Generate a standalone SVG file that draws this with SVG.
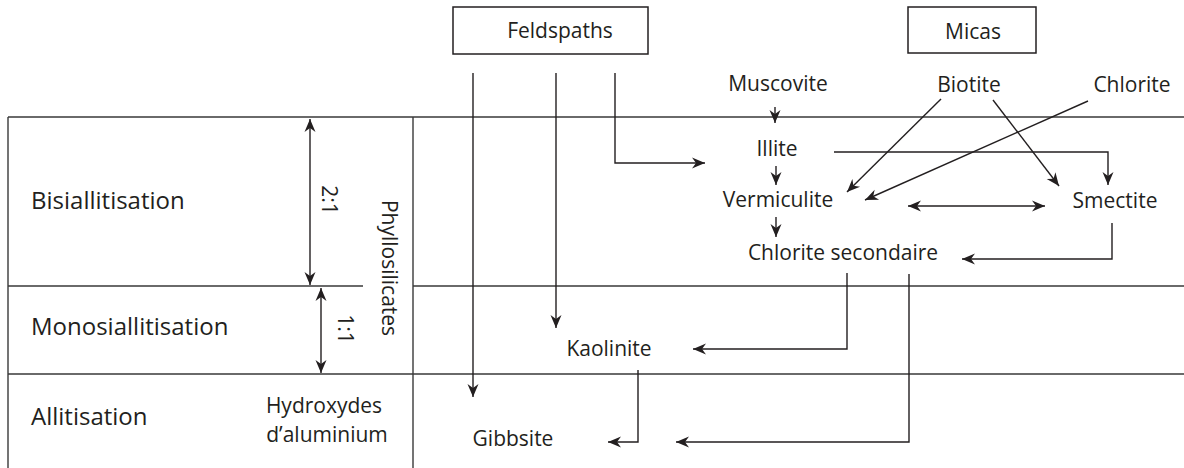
<svg xmlns="http://www.w3.org/2000/svg" width="1184" height="468" viewBox="0 0 1184 468">
<style>
  text{font-family:"Open Sans","Liberation Sans",sans-serif;fill:#231f20;font-size:21px}
  .big{font-size:24px}
  .m{text-anchor:middle}
  .grid{stroke:#3a3a3a;stroke-width:1.4;fill:none}
  .box{stroke:#231f20;stroke-width:1.5;fill:#fff}
  .c{stroke:#231f20;stroke-width:1.4;fill:none;marker-end:url(#ah)}
  .d{marker-start:url(#ah2)}
</style>
<defs>
  <marker id="ah" markerUnits="userSpaceOnUse" viewBox="-14 -7 16 14" markerWidth="16" markerHeight="14" refX="0" refY="0" orient="auto">
    <path d="M0,0 L-13,-5.5 L-9,0 L-13,5.5 Z" fill="#231f20"/>
  </marker>
  <marker id="ah2" markerUnits="userSpaceOnUse" viewBox="-14 -7 16 14" markerWidth="16" markerHeight="14" refX="0" refY="0" orient="auto-start-reverse">
    <path d="M0,0 L-13,-5.5 L-9,0 L-13,5.5 Z" fill="#231f20"/>
  </marker>
</defs>
<rect width="1184" height="468" fill="#fff"/>
<g id="table">
  <path class="grid" d="M8,117 H1184 M8,117 V468 M8,286 H363 M413,286 H1184 M8,374 H1184 M413,117 V468"/>
</g>
<g id="rows">
  <text class="big" x="31" y="209">Bisiallitisation</text>
  <text class="big" x="31" y="335">Monosiallitisation</text>
  <text class="big" x="31" y="425">Allitisation</text>
  <text x="324" y="413" class="m">Hydroxydes</text>
  <text x="327" y="442" class="m">d’aluminium</text>
  <text class="m" transform="translate(382,268) rotate(90)">Phyllosilicates</text>
  <text class="m" transform="translate(322,200) rotate(90)">2:1</text>
  <text class="m" transform="translate(338,329) rotate(90)">1:1</text>
</g>
<g id="feldspaths"><rect class="box" x="453" y="7" width="195" height="47"/><text class="m" x="560" y="38">Feldspaths</text></g>
<g id="micas"><rect class="box" x="908" y="7" width="128" height="46"/><text class="m" x="973" y="39">Micas</text></g>
<g id="muscovite"><text class="m" x="778" y="91">Muscovite</text></g>
<g id="biotite"><text class="m" x="969" y="92">Biotite</text></g>
<g id="chlorite"><text class="m" x="1132" y="92">Chlorite</text></g>
<g id="illite"><text class="m" x="777" y="156">Illite</text></g>
<g id="vermiculite"><text class="m" x="778" y="207">Vermiculite</text></g>
<g id="smectite"><text class="m" x="1115" y="208">Smectite</text></g>
<g id="chlorite-secondaire"><text class="m" x="843" y="260">Chlorite secondaire</text></g>
<g id="kaolinite"><text class="m" x="609" y="356">Kaolinite</text></g>
<g id="gibbsite"><text class="m" x="513" y="446">Gibbsite</text></g>
<g id="connectors">
  <path class="c d" d="M310,119 V285"/>
  <path class="c d" d="M321,288 V373"/>
  <path class="c" d="M473,73 V397"/>
  <path class="c" d="M556,73 V328"/>
  <path class="c" d="M615,73 V163 H705"/>
  <path class="c" d="M775,107 V123"/>
  <path class="c" d="M776,166 V185"/>
  <path class="c" d="M776,217 V237"/>
  <path class="c" d="M941,99 L847,192"/>
  <path class="c" d="M993,100 L1059,186"/>
  <path class="c" d="M1088,101 L865,200"/>
  <path class="c" d="M834,152 H1108 V185"/>
  <path class="c d" d="M908,206 H1045"/>
  <path class="c" d="M1112,223 V259 H962"/>
  <path class="c" d="M847,273 V349 H693"/>
  <path class="c" d="M909,274 V442 H676"/>
  <path class="c" d="M638,370 V442 H608"/>
</g>
</svg>
